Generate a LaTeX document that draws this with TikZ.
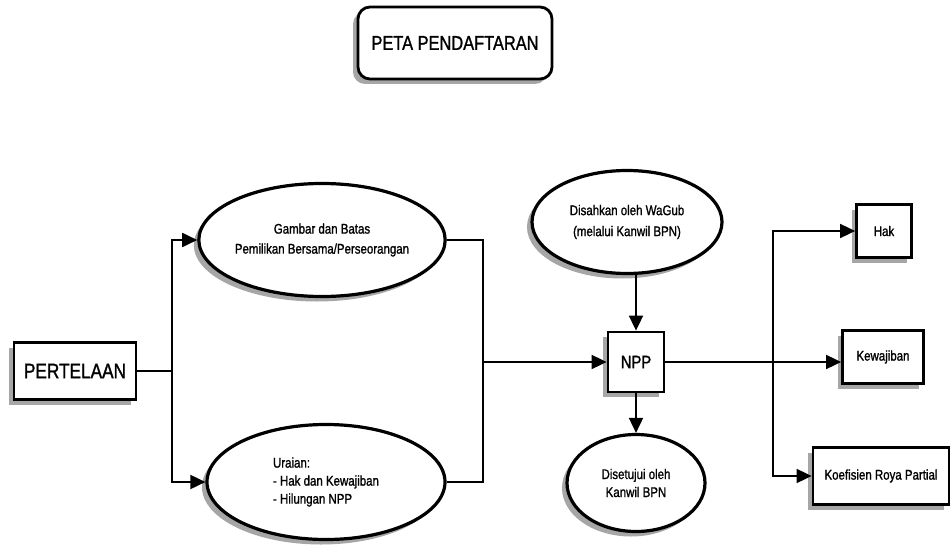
\documentclass[tikz,border=0pt]{standalone}
\usepackage{fontspec}
\setmainfont{Liberation Sans}[FakeStretch=0.82,FakeBold=1.2,AutoFakeBold=0]
\usetikzlibrary{arrows.meta,shadows,shapes.geometric}
\begin{document}
\begin{tikzpicture}[x=1pt,y=-1pt,
  shad/.style={drop shadow={shadow xshift=-5pt,shadow yshift=-5pt,fill=black!35,opacity=1}},
  boxn/.style={draw,line width=2.8pt,fill=white,shad,inner sep=0pt,rectangle},
  ell/.style={draw,ellipse,line width=3.2pt,fill=white,shad,inner sep=0pt,align=center,font=\fontsize{14}{20}\selectfont},
  conn/.style={line width=1.8pt},
  arr/.style={conn,-{Triangle[length=15pt,width=14pt]}}
]
\fill[white] (0,0) rectangle (952,548);
\useasboundingbox (0,0) rectangle (952,548);

\node[boxn,rounded corners=12pt,minimum width=194pt,minimum height=72pt,font=\fontsize{20}{24}\selectfont] (peta) at (455,43) {PETA PENDAFTARAN};
\node[boxn,minimum width=122pt,minimum height=57pt,font=\fontsize{21}{24}\selectfont] (pert) at (75,371) {PERTELAAN};
\node[ell,minimum width=240pt,minimum height=113pt] (gam) at (322,240) {Gambar dan Batas\\Pemilikan Bersama/Perseorangan};
\node[ell,minimum width=238pt,minimum height=115pt,align=left,font=\fontsize{14}{18}\selectfont] (ura) at (326,482) {Uraian:\\- Hak dan Kewajiban\\- Hilungan NPP};
\node[ell,minimum width=190pt,minimum height=103pt,font=\fontsize{14}{21}\selectfont] (dis) at (627,222) {Disahkan oleh WaGub\\(melalui Kanwil BPN)};
\node[boxn,minimum width=56pt,minimum height=60pt,font=\fontsize{18}{22}\selectfont] (npp) at (636,362) {NPP};
\node[ell,minimum width=138pt,minimum height=97pt,font=\fontsize{14}{18}\selectfont] (set) at (636,483) {Disetujui oleh\\Kanwil BPN};
\node[boxn,minimum width=55pt,minimum height=53pt,font=\fontsize{14}{18}\selectfont] (hak) at (884,231) {Hak};
\node[boxn,minimum width=81pt,minimum height=53pt,font=\fontsize{14}{18}\selectfont] (kew) at (883,357) {Kewajiban};
\node[boxn,minimum width=136pt,minimum height=57pt,font=\fontsize{14}{18}\selectfont] (koe) at (881,476) {Koefisien Roya Partial};

\coordinate (j1) at (172,371);
\coordinate (j2) at (483,362);
\coordinate (j3) at (773,357);

\draw[conn] (pert.east) -- (j1);
\draw[arr] (j1) |- (gam.west);
\draw[arr] (j1) |- (ura.west);
\draw[conn] (gam.east) -| (j2);
\draw[conn] (ura.east) -| (j2);
\draw[arr] (j2) -- (npp.west);
\draw[arr] (npp.north |- dis.south) -- (npp.north);
\draw[arr] (npp.south) -- (set.north);
\draw[arr] (npp.east) -- (npp.east -| kew.west);
\draw[conn] (j3 |- hak.west) -- (j3 |- koe.west);
\draw[arr] (j3) |- (hak.west);
\draw[arr] (j3) |- (koe.west);
\end{tikzpicture}
\end{document}
